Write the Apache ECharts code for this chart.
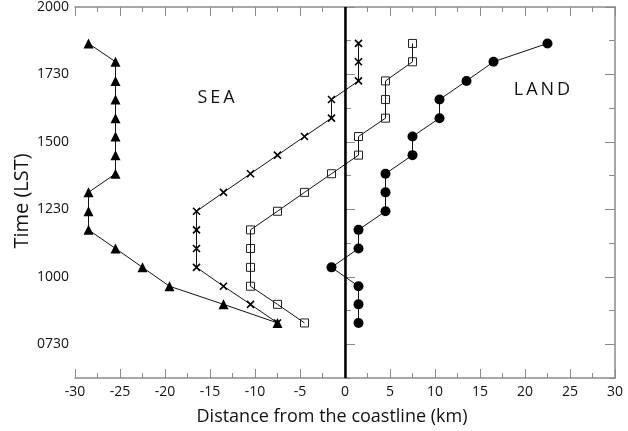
<!doctype html>
<html lang="en">
<head>
<meta charset="utf-8">
<title>Sea breeze front position</title>
<script src="https://cdn.jsdelivr.net/npm/echarts@6/dist/echarts.min.js"></script>
<style>
  html, body { margin: 0; padding: 0; background: #fff; }
  #chart { width: 628px; height: 431px; }
</style>
</head>
<body>
<div id="chart"></div>
<script>
// time of each profile (decimal hours, LST)
var times = [8.29, 8.98, 9.65, 10.35, 11.05, 11.74, 12.43, 13.13, 13.82, 14.51, 15.20, 15.88, 16.57, 17.26, 17.97, 18.65];
// distance from the coastline (km) for each marker type
var triangleKm = [-7.5, -13.5, -19.5, -22.5, -25.5, -28.5, -28.5, -28.5, -25.5, -25.5, -25.5, -25.5, -25.5, -25.5, -25.5, -28.5];
var crossKm = [-7.5, -10.5, -13.5, -16.5, -16.5, -16.5, -16.5, -13.5, -10.5, -7.5, -4.5, -1.5, -1.5, 1.5, 1.5, 1.5];
var squareKm = [-4.5, -7.5, -10.5, -10.5, -10.5, -10.5, -7.5, -4.5, -1.5, 1.5, 1.5, 4.5, 4.5, 4.5, 7.5, 7.5];
var circleKm = [1.5, 1.5, 1.5, -1.5, 1.5, 1.5, 4.5, 4.5, 4.5, 7.5, 7.5, 10.5, 10.5, 13.5, 16.5, 22.5];
var yTickValues = [7.5, 10, 12.5, 15, 17.5, 20];
var yTickLabels = ['0730', '1000', '1230', '1500', '1730', '2000'];

var axisGray = '#8a8a8a';
var font = 'Open Sans';

function pairs(xs) {
    return xs.map(function (x, i) { return [x, times[i]]; });
}

function xAx(pos, labels) {
    return {
        type: 'value', position: pos, min: -30, max: 30, interval: 5,
        axisLine: { lineStyle: { color: axisGray, width: 1.5 } },
        axisTick: { inside: true, length: 9, lineStyle: { color: axisGray } },
        minorTick: { show: true, splitNumber: 2, length: 5, lineStyle: { color: axisGray } },
        splitLine: { show: false },
        axisLabel: { show: labels, color: '#111', fontFamily: font, fontSize: 14, margin: 7 }
    };
}

function yMajor(pos, labels) {
    return {
        type: 'value', position: pos, min: 6.25, max: 20,
        axisLine: { lineStyle: { color: axisGray, width: 1.5 } },
        axisTick: { inside: true, length: 10, customValues: yTickValues, lineStyle: { color: axisGray } },
        splitLine: { show: false },
        axisLabel: {
            show: labels, customValues: yTickValues, color: '#111', fontFamily: font, fontSize: 14, margin: 6,
            formatter: function (v) { return yTickLabels[yTickValues.indexOf(v)]; }
        }
    };
}

function yMinor(pos) {
    return {
        type: 'value', position: pos, min: 6.25, max: 20, interval: 1.25,
        axisLine: { show: false },
        axisTick: { inside: true, length: 6, lineStyle: { color: axisGray } },
        splitLine: { show: false },
        axisLabel: { show: false }
    };
}

function lineSeries(name, xs, symbol, size, itemStyle) {
    return {
        name: name, type: 'line', data: pairs(xs),
        symbol: symbol, symbolSize: size, showSymbol: true,
        lineStyle: { color: '#111', width: 1 },
        itemStyle: itemStyle,
        animation: false
    };
}

var chart = echarts.init(document.getElementById('chart'));
var option = {
    backgroundColor: '#fff',
    grid: { left: 75, right: 13, top: 5, bottom: 53 },
    xAxis: [xAx('bottom', true), xAx('top', false)],
    yAxis: [yMajor('left', true), yMinor('left'), yMajor('right', false), yMinor('right')],
    graphic: [
        { type: 'text', x: 22, y: 201, rotation: Math.PI / 2,
          style: { text: 'Time (LST)', font: '20px "Open Sans"', fill: '#111', align: 'center', verticalAlign: 'middle' } },
        { type: 'text', x: 332, y: 417,
          style: { text: 'Distance from the coastline (km)', font: '18px "Open Sans"', fill: '#111', align: 'center', verticalAlign: 'middle' } },
        { type: 'text', x: 216, y: 98,
          style: { text: 'S\u2009E\u2009A', font: '18px "Open Sans"', fill: '#111', align: 'center', verticalAlign: 'middle' } },
        { type: 'text', x: 542, y: 90,
          style: { text: 'L\u2009A\u2009N\u2009D', font: '18px "Open Sans"', fill: '#111', align: 'center', verticalAlign: 'middle' } }
    ],
    series: [
        lineSeries('triangle', triangleKm, 'triangle', 10, { color: '#000' }),
        lineSeries('cross', crossKm, 'path://M0,0L10,10M10,0L0,10', 7, { color: '#000', borderColor: '#000', borderWidth: 1.6 }),
        lineSeries('square', squareKm, 'rect', 8, { color: 'rgba(255,255,255,0)', borderColor: '#222', borderWidth: 1 }),
        Object.assign(lineSeries('circle', circleKm, 'circle', 10, { color: '#000' }), {
            markLine: {
                silent: true, symbol: ['none', 'none'], label: { show: false },
                lineStyle: { color: '#000', width: 2.5, type: 'solid' },
                data: [{ xAxis: 0 }]
            }
        })
    ]
};
chart.setOption(option);
</script>
</body>
</html>
